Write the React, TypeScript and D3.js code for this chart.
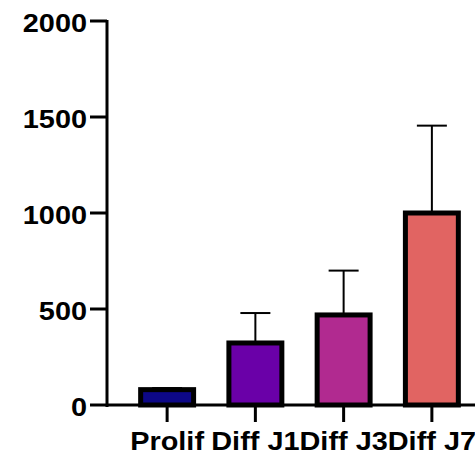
import React from "react";
import * as d3 from "d3";

const categories = ["Prolif", "Diff J1", "Diff J3", "Diff J7"];
const means = [80, 323, 469, 1000];
const errors = [8, 156, 231, 455];
const colors = ["#0d0887", "#6a00a8", "#b12a90", "#e16462"];
const yTicks = [0, 500, 1000, 1500, 2000];

const W = 475;
const H = 455;
const FONT = "'Liberation Sans', Arial, Helvetica, sans-serif";
const FS = 26.5;
const SX = 1.09;

export default function App() {
  const y = d3.scaleLinear().domain([0, 2000]).range([405, 21]);
  const x = d3
    .scaleBand<string>()
    .domain(categories)
    .range([123, 476])
    .paddingInner(0.4)
    .paddingOuter(0.2);
  const axisX = 107;
  const bw = x.bandwidth();

  return (
    <svg
      width={W}
      height={H}
      style={{ position: "absolute", left: 0, top: 0, background: "#fff" }}
    >
      {categories.map((c, i) => {
        const cx = (x(c) as number) + bw / 2;
        const top = y(means[i] + errors[i]);
        return (
          <g key={c}>
            <line x1={cx} x2={cx} y1={y(means[i])} y2={top} stroke="#000" strokeWidth={2} />
            <line x1={cx - 15} x2={cx + 15} y1={top} y2={top} stroke="#000" strokeWidth={2} />
            <rect
              x={x(c) as number}
              y={y(means[i])}
              width={bw}
              height={y(0) - y(means[i])}
              fill={colors[i]}
              stroke="#000"
              strokeWidth={5}
            />
          </g>
        );
      })}
      <line x1={axisX} x2={W} y1={y(0)} y2={y(0)} stroke="#000" strokeWidth={3} />
      {categories.map((c) => {
        const cx = (x(c) as number) + bw / 2;
        return (
          <g key={"t" + c}>
            <line x1={cx} x2={cx} y1={y(0)} y2={y(0) + 17} stroke="#000" strokeWidth={3} />
            <text
              transform={`translate(${cx},450) scale(${SX},1)`}
              textAnchor="middle"
              fontFamily={FONT}
              fontWeight="bold"
              fontSize={FS}
              fill="#000"
            >
              {c}
            </text>
          </g>
        );
      })}
      <line
        x1={axisX}
        x2={axisX}
        y1={y(2000) - 1}
        y2={y(0) + 2}
        stroke="#000"
        strokeWidth={3}
      />
      {yTicks.map((t) => (
        <g key={"y" + t}>
          <line x1={90} x2={axisX} y1={y(t)} y2={y(t)} stroke="#000" strokeWidth={3} />
          <text
            transform={`translate(87,${y(t) + 11}) scale(${SX},1)`}
            textAnchor="end"
            fontFamily={FONT}
            fontWeight="bold"
            fontSize={FS}
            fill="#000"
          >
            {t}
          </text>
        </g>
      ))}
    </svg>
  );
}
